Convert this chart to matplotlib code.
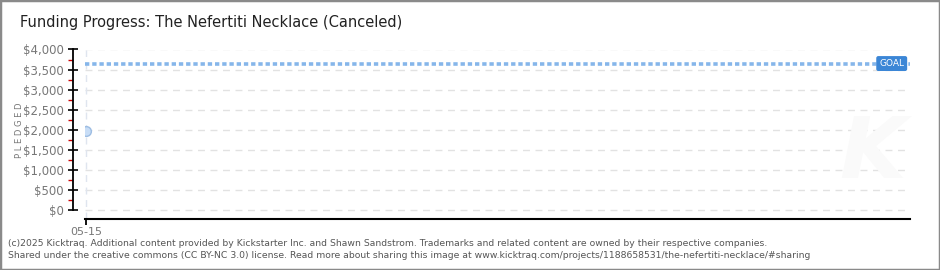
import matplotlib
matplotlib.use("Agg")
import matplotlib.pyplot as plt
from matplotlib.patches import Rectangle

# data
days = [0]
pledged = [1975]
goal = 3650
date_labels = ["05-15"]
yticks = [0, 500, 1000, 1500, 2000, 2500, 3000, 3500, 4000]
ytick_labels = ["$0", "$500", "$1,000", "$1,500", "$2,000", "$2,500", "$3,000", "$3,500", "$4,000"]

fig = plt.figure(figsize=(9.4, 2.7), dpi=100)
fig.patch.set_facecolor("white")
ax = fig.add_axes([85 / 940, 51 / 270, 825 / 940, 169.5 / 270])

# grid
for y in yticks:
    ax.axhline(y, color="#e2e2e2", lw=1, ls=(0, (5, 4)), zorder=0)
for d in days:
    ax.axvline(d, color="#dfe5ef", lw=1, ls=(0, (5, 4)), zorder=0)

# goal line + label
ax.axhline(goal, color="#86b6ea", lw=2.6, ls=(0, (1.2, 0.8)), zorder=2)
ax.annotate("GOAL", xy=(0.993, goal), xycoords=("axes fraction", "data"),
            ha="right", va="center", fontsize=6.5, color="white",
            bbox=dict(boxstyle="round,pad=0.25,rounding_size=0.15",
                      fc="#3b86d6", ec="#3b86d6"), zorder=4)

# pledged points
ax.plot(days, pledged, "o", ms=7, mfc="#c8ddf6", mec="#9dbde3", mew=1, zorder=3)

# faint watermark
ax.text(0.955, 0.38, "K", transform=ax.transAxes, fontsize=62, color="#fafafa",
        style="italic", fontweight="bold", ha="center", va="center", zorder=0)

ax.set_xlim(-0.036, 30)
ax.set_ylim(-224, 4000)

for s in ["top", "right"]:
    ax.spines[s].set_visible(False)
ax.spines["left"].set_position(("outward", 9))
ax.spines["left"].set_bounds(0, 4000)
ax.spines["left"].set_linewidth(1.3)
ax.spines["bottom"].set_linewidth(1.5)

ax.set_yticks(yticks)
ax.set_yticklabels(ytick_labels)
ax.set_yticks([250, 750, 1250, 1750, 2250, 2750, 3250, 3750], minor=True)
ax.tick_params(axis="y", which="major", direction="inout", length=7, width=1.2,
               colors="black", labelcolor="#777777", labelsize=8.5, pad=3)
ax.tick_params(axis="y", which="minor", direction="out", length=3.5, width=1,
               colors="#cc0000")
ax.set_xticks(days)
ax.set_xticklabels(date_labels)
ax.tick_params(axis="x", direction="out", length=4, width=1.3, colors="black",
               labelcolor="#777777", labelsize=8, pad=2)

fig.text(19 / 940, 1 - 130 / 270, "P L E D G E D", rotation=90, fontsize=6,
         color="#777777", ha="center", va="center")

fig.text(20 / 940, 1 - 22 / 270, "Funding Progress: The Nefertiti Necklace (Canceled)",
         fontsize=10.5, color="#222222", ha="left", va="center")

fig.text(8 / 940, 1 - 243 / 270,
         "(c)2025 Kicktraq. Additional content provided by Kickstarter Inc. and Shawn Sandstrom. "
         "Trademarks and related content are owned by their respective companies.",
         fontsize=6.65, color="#555555", ha="left", va="center")
fig.text(8 / 940, 1 - 256 / 270,
         "Shared under the creative commons (CC BY-NC 3.0) license. Read more about sharing this image at "
         "www.kicktraq.com/projects/1188658531/the-nefertiti-necklace/#sharing",
         fontsize=6.65, color="#555555", ha="left", va="center")

fig.patches.append(Rectangle((0, 0), 1, 1, transform=fig.transFigure, fill=False,
                             ec="#8a8a8a", lw=2.5, zorder=10))

fig.savefig("out.png", dpi=100)
